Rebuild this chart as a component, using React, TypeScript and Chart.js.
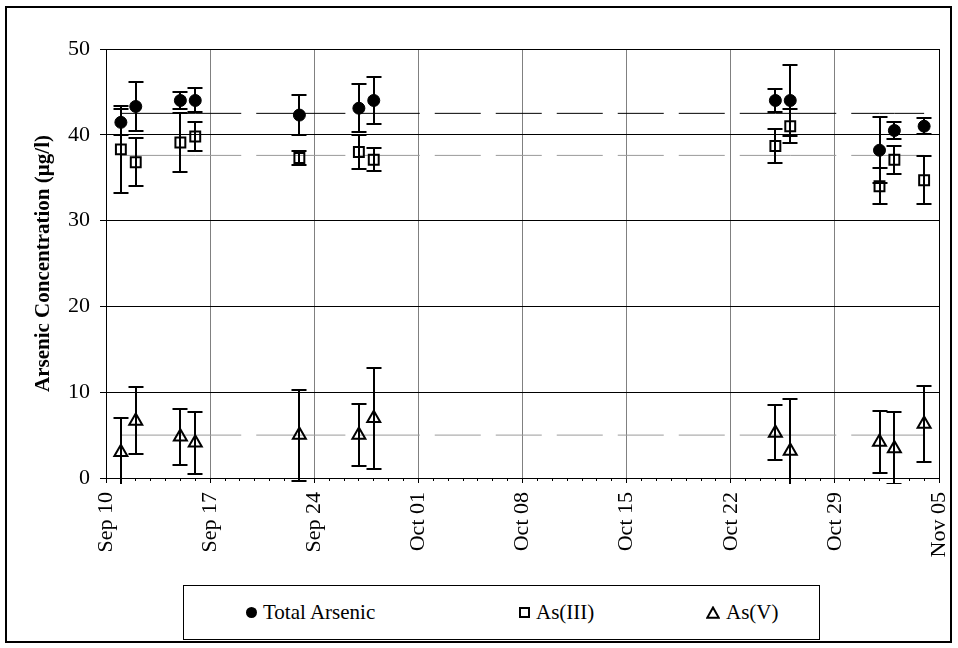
import React, { useEffect, useRef } from 'react';
import { Chart, registerables } from 'chart.js';

Chart.register(...registerables);

// Sampling dates (month-day) and measured concentrations in µg/l
const sampleDates = ['09-11', '09-12', '09-15', '09-16', '09-23', '09-27', '09-28', '10-25', '10-26', '11-01', '11-02', '11-04'];
const totalArsenic = [41.45, 43.3, 44.0, 44.0, 42.3, 43.1, 44.0, 44.0, 44.0, 38.2, 40.5, 41.0];
const totalArsenicSd = [1.5, 2.9, 0.95, 1.4, 2.3, 2.8, 2.7, 1.3, 4.15, 3.85, 1.0, 0.9];
const arsenite = [38.3, 36.8, 39.1, 39.8, 37.3, 38.0, 37.1, 38.7, 41.0, 34.0, 37.1, 34.7];
const arseniteSd = [5.1, 2.8, 3.45, 1.7, 0.85, 1.95, 1.35, 2.0, 2.0, 2.1, 1.65, 2.8];
const arsenate = [3.0, 6.65, 4.8, 4.1, 5.0, 5.0, 6.95, 5.25, 3.15, 4.2, 3.45, 6.3];
const arsenateSd = [4.05, 3.9, 3.3, 3.6, 5.3, 3.6, 5.9, 3.2, 6.0, 3.6, 4.2, 4.4];

// Averages over the whole sampling period
const meanTotal = 42.5;
const meanArsenite = 37.6;
const meanArsenate = 5.0;

const weekLabels = ['Sep 10', 'Sep 17', 'Sep 24', 'Oct 01', 'Oct 08', 'Oct 15', 'Oct 22', 'Oct 29', 'Nov 05'];
const yTicks = [0, 10, 20, 30, 40, 50];

const FONT = '"Liberation Serif", "Times New Roman", serif';
const START = Date.UTC(2001, 8, 10);
const DAYS = (weekLabels.length - 1) * 7;

const dayOf = (md: string) => {
  const [m, d] = md.split('-').map(Number);
  return Math.round((Date.UTC(2001, m - 1, d) - START) / 86400000);
};

const points = (values: number[]) => values.map((v, i) => ({ x: dayOf(sampleDates[i]), y: v }));
const flat = (v: number) => sampleDates.map((d) => ({ x: dayOf(d), y: v }));

// Standard-deviation whiskers for every dataset carrying `sd`
const errorBarPlugin = {
  id: 'errorBars',
  afterDatasetsDraw(chart: any) {
    const { ctx, chartArea, scales } = chart;
    ctx.save();
    ctx.beginPath();
    ctx.rect(chartArea.left - 20, chartArea.top - 20, chartArea.right - chartArea.left + 40, chartArea.bottom - chartArea.top + 26);
    ctx.clip();
    ctx.strokeStyle = '#000';
    ctx.lineWidth = 2;
    chart.data.datasets.forEach((ds: any) => {
      if (!ds.sd) return;
      ds.data.forEach((p: any, j: number) => {
        const x = Math.round(scales.x.getPixelForValue(p.x));
        const yTop = Math.round(scales.y.getPixelForValue(p.y + ds.sd[j]));
        const yBot = Math.round(scales.y.getPixelForValue(p.y - ds.sd[j]));
        ctx.beginPath();
        ctx.moveTo(x, yTop);
        ctx.lineTo(x, yBot);
        ctx.moveTo(x - 7.5, yTop);
        ctx.lineTo(x + 7.5, yTop);
        ctx.moveTo(x - 7.5, yBot);
        ctx.lineTo(x + 7.5, yBot);
        ctx.stroke();
      });
    });
    ctx.restore();
  },
};

const meanLine = (v: number, color: string) => ({
  label: 'mean',
  data: flat(v),
  borderColor: color,
  borderWidth: 1,
  borderDash: [46, 15],
  pointRadius: 0,
  showLine: true,
  order: 10,
  // restart the dash pattern between every pair of sampling dates
  segment: { borderDashOffset: (c: any) => (c.p0DataIndex % 2) * 0.01 },
});

const noSidePadding = (s: any) => {
  s.paddingLeft = 0;
  s.paddingRight = 0;
};

function ArsenicChart() {
  const ref = useRef<HTMLCanvasElement>(null);

  useEffect(() => {
    if (!ref.current) return;
    const chart = new Chart(ref.current, {
      type: 'line',
      data: {
        datasets: [
          meanLine(meanTotal, '#000000') as any,
          meanLine(meanArsenite, '#9a9a9a') as any,
          meanLine(meanArsenate, '#9a9a9a') as any,
          {
            label: 'Total Arsenic',
            data: points(totalArsenic),
            sd: totalArsenicSd,
            showLine: false,
            pointStyle: 'circle',
            pointRadius: 6,
            pointBackgroundColor: '#000',
            pointBorderColor: '#000',
            pointBorderWidth: 1,
            order: 0,
          } as any,
          {
            label: 'As(III)',
            data: points(arsenite),
            sd: arseniteSd,
            showLine: false,
            pointStyle: 'rect',
            pointRadius: 7,
            pointBackgroundColor: 'rgba(0,0,0,0)',
            pointBorderColor: '#000',
            pointBorderWidth: 2,
            order: 0,
          } as any,
          {
            label: 'As(V)',
            data: points(arsenate),
            sd: arsenateSd,
            showLine: false,
            pointStyle: 'triangle',
            pointRadius: 7.5,
            pointBackgroundColor: 'rgba(0,0,0,0)',
            pointBorderColor: '#000',
            pointBorderWidth: 2,
            order: 0,
          } as any,
        ],
      },
      options: {
        animation: false,
        responsive: false,
        devicePixelRatio: 1,
        layout: { padding: { top: 49, right: 19, left: 0, bottom: 0 } },
        plugins: { legend: { display: false }, tooltip: { enabled: false } },
        elements: { line: { tension: 0 } },
        scales: {
          x: {
            type: 'linear',
            position: 'bottom',
            weight: 1,
            min: 0,
            max: DAYS,
            ticks: {
              stepSize: 7,
              autoSkip: false,
              minRotation: 90,
              maxRotation: 90,
              padding: 9,
              color: '#000',
              font: { family: FONT, size: 22 },
              callback: (v: any) => weekLabels[Math.round(Number(v) / 7)] ?? '',
            },
            grid: {
              color: (c: any) => (c.tick && (c.tick.value === 0 || c.tick.value === DAYS) ? '#000' : '#808080'),
              lineWidth: 1,
              tickLength: 5,
              tickColor: '#000',
            },
            border: { display: true, color: '#000', width: 1 },
            afterFit: (s: any) => {
              s.height = 97;
              noSidePadding(s);
            },
          },
          xDays: {
            type: 'linear',
            position: 'bottom',
            weight: 0,
            min: 0,
            max: DAYS,
            ticks: { stepSize: 1, display: false },
            grid: { drawOnChartArea: false, tickLength: 3, color: '#000', tickColor: '#000' },
            border: { display: false },
            afterFit: (s: any) => {
              s.height = 0;
              noSidePadding(s);
            },
          },
          y: {
            type: 'linear',
            min: 0,
            max: 50,
            afterBuildTicks: (s: any) => {
              s.ticks = yTicks.map((v) => ({ value: v }));
            },
            ticks: {
              padding: 10,
              color: '#000',
              font: { family: FONT, size: 22 },
            },
            grid: { color: '#000', lineWidth: 1, tickLength: 6, tickColor: '#000' },
            border: { display: true, color: '#000', width: 1 },
            title: {
              display: true,
              text: 'Arsenic Concentration (µg/l)',
              color: '#000',
              font: { family: FONT, size: 21, weight: 'bold' },
              padding: { top: 31, bottom: 0 },
            },
            afterFit: (s: any) => {
              s.width = 106;
            },
          },
        },
      },
      plugins: [errorBarPlugin],
    });
    return () => chart.destroy();
  }, []);

  return (
    <canvas
      ref={ref}
      width={958}
      height={575}
      style={{ position: 'absolute', left: 0, top: 0, width: 958, height: 575, display: 'block' }}
    />
  );
}

const legendItems = [
  { label: 'Total Arsenic', marker: 'circle', left: 245 },
  { label: 'As(III)', marker: 'square', left: 518 },
  { label: 'As(V)', marker: 'triangle', left: 705 },
];

function Marker({ kind }: { kind: string }) {
  if (kind === 'circle') {
    return <span style={{ display: 'inline-block', width: 11, height: 11, borderRadius: '50%', background: '#000' }} />;
  }
  if (kind === 'square') {
    return <span style={{ display: 'inline-block', width: 11, height: 11, border: '2px solid #000', boxSizing: 'border-box' }} />;
  }
  return (
    <svg width={14} height={13} viewBox="0 0 14 13" style={{ display: 'inline-block' }}>
      <polygon points="7,1.5 12.8,11.8 1.2,11.8" fill="none" stroke="#000" strokeWidth={2} />
    </svg>
  );
}

export default function App() {
  return (
    <div style={{ position: 'absolute', left: 0, top: 0, width: 958, height: 648, background: '#fff', fontFamily: FONT }}>
      <div
        style={{
          position: 'absolute',
          left: 5,
          top: 6,
          width: 947,
          height: 637,
          border: '2px solid #000',
          boxSizing: 'border-box',
        }}
      />
      <ArsenicChart />
      <div
        style={{
          position: 'absolute',
          left: 183,
          top: 585,
          width: 637,
          height: 55,
          border: '1px solid #000',
          boxSizing: 'border-box',
          background: '#fff',
        }}
      >
        {legendItems.map((it) => (
          <div
            key={it.label}
            style={{
              position: 'absolute',
              left: it.left - 183,
              top: 0,
              height: 53,
              display: 'flex',
              alignItems: 'center',
              gap: 6,
              fontSize: 21,
              color: '#000',
              whiteSpace: 'nowrap',
            }}
          >
            <Marker kind={it.marker} />
            <span>{it.label}</span>
          </div>
        ))}
      </div>
    </div>
  );
}
